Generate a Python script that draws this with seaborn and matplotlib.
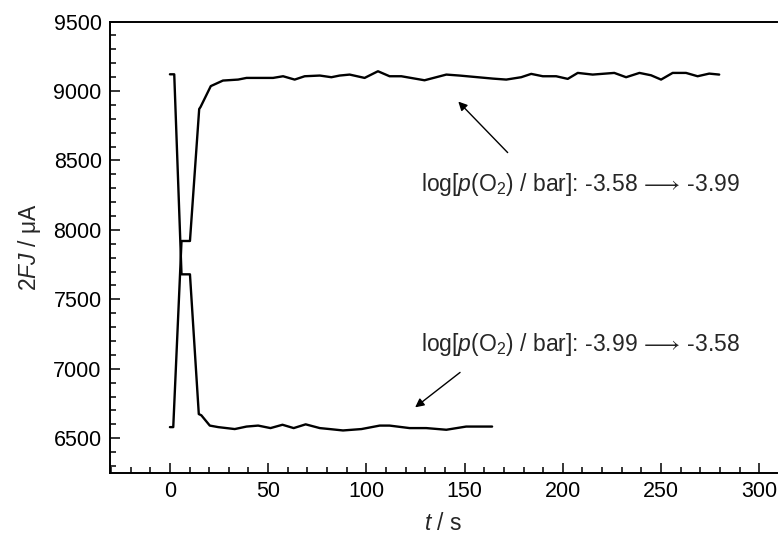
import matplotlib
matplotlib.use('Agg')
import matplotlib.pyplot as plt
import pandas as pd
import seaborn as sns
from matplotlib.ticker import MultipleLocator

# rising trace: -3.58 -> -3.99
t_rise = [0, 1.7, 5.9, 10.2, 14.9, 15.6, 20.8, 27, 34.7, 39, 45, 52.5, 57.6, 63.5, 68.6, 76.3, 82.2,
          86.4, 91.5, 99.1, 105.9, 111.8, 117.8, 129.6, 140.7, 147.4, 164.4, 171.2, 178.8, 183.9,
          189.8, 196.6, 202.5, 207.6, 215.2, 226.2, 232.2, 239, 244.9, 250, 255.9, 262.7, 268.6,
          274.5, 279.6]
j_rise = [6580, 6580, 7920, 7920, 8870, 8885, 9035, 9075, 9082, 9094, 9094, 9094, 9106, 9082, 9106,
          9111, 9099, 9111, 9118, 9094, 9142, 9106, 9106, 9077, 9118, 9111, 9089, 9082, 9099, 9123,
          9106, 9106, 9087, 9130, 9118, 9130, 9099, 9130, 9113, 9082, 9130, 9130, 9106, 9125, 9118]

# falling trace: -3.99 -> -3.58
t_fall = [0, 2.2, 5.9, 10.2, 14.7, 16, 20.3, 24.6, 33, 39, 44.9, 51.2, 57.3, 63, 69.1, 76.3, 81.3,
          88.1, 97.5, 106.8, 111.8, 122, 130.5, 140.7, 150.8, 164]
j_fall = [9120, 9120, 7680, 7680, 6674, 6665, 6591, 6580, 6566, 6584, 6591, 6573, 6597, 6573, 6600,
          6573, 6566, 6556, 6566, 6591, 6591, 6573, 6573, 6561, 6584, 6584]

label_up = r'log[$p$(O$_2$) / bar]: -3.58$\,\longrightarrow\,$-3.99'
label_down = r'log[$p$(O$_2$) / bar]: -3.99$\,\longrightarrow\,$-3.58'

sns.set_style('ticks')
plt.rcParams['font.family'] = ['Liberation Sans', 'DejaVu Sans']
plt.rcParams['mathtext.fontset'] = 'custom'
plt.rcParams['mathtext.rm'] = 'Liberation Sans'
plt.rcParams['mathtext.it'] = 'Liberation Sans:italic'

df_rise = pd.DataFrame({'t': t_rise, 'j': j_rise})
df_fall = pd.DataFrame({'t': t_fall, 'j': j_fall})

fig = plt.figure(figsize=(7.79, 5.42), dpi=100)
ax = fig.add_axes([0.1412, 0.1279, 0.8562, 0.8324])

sns.lineplot(data=df_rise, x='t', y='j', color='black', lw=1.7, sort=False, estimator=None, ax=ax)
sns.lineplot(data=df_fall, x='t', y='j', color='black', lw=1.7, sort=False, estimator=None, ax=ax)

ax.set_xlim(-30.5, 309)
ax.set_ylim(6252, 9500)
ax.xaxis.set_major_locator(MultipleLocator(50))
ax.xaxis.set_minor_locator(MultipleLocator(10))
ax.yaxis.set_major_locator(MultipleLocator(500))
ax.yaxis.set_minor_locator(MultipleLocator(100))
ax.tick_params(which='both', direction='in', width=1.1, colors='black', labelsize=15.5, pad=6)
ax.tick_params(which='major', length=7.2)
ax.tick_params(which='minor', length=4.3)
ax.tick_params(top=False, right=False, which='both')

for side in ['left', 'bottom', 'top']:
    ax.spines[side].set_linewidth(1.4)
    ax.spines[side].set_color('black')
ax.spines['right'].set_visible(False)

ax.set_xlabel(r'$t$ / s', fontsize=16.5)
ax.set_ylabel(r'2$FJ$ / μA', fontsize=16.5)
ax.xaxis.set_label_coords(0.5, -0.088)
ax.yaxis.set_label_coords(-0.1, 0.5)

ax.text(128, 8282, label_up, fontsize=16.5, va='baseline', ha='left')
ax.annotate('', xy=(145.8, 8938), xytext=(172.9, 8542),
            arrowprops=dict(arrowstyle='-|>', color='black', lw=1.0, mutation_scale=13))

ax.text(128, 7125, label_down, fontsize=16.5, va='baseline', ha='left')
ax.annotate('', xy=(123.7, 6710), xytext=(148.8, 6986),
            arrowprops=dict(arrowstyle='-|>', color='black', lw=1.0, mutation_scale=13))

fig.savefig('out.png', dpi=100)
